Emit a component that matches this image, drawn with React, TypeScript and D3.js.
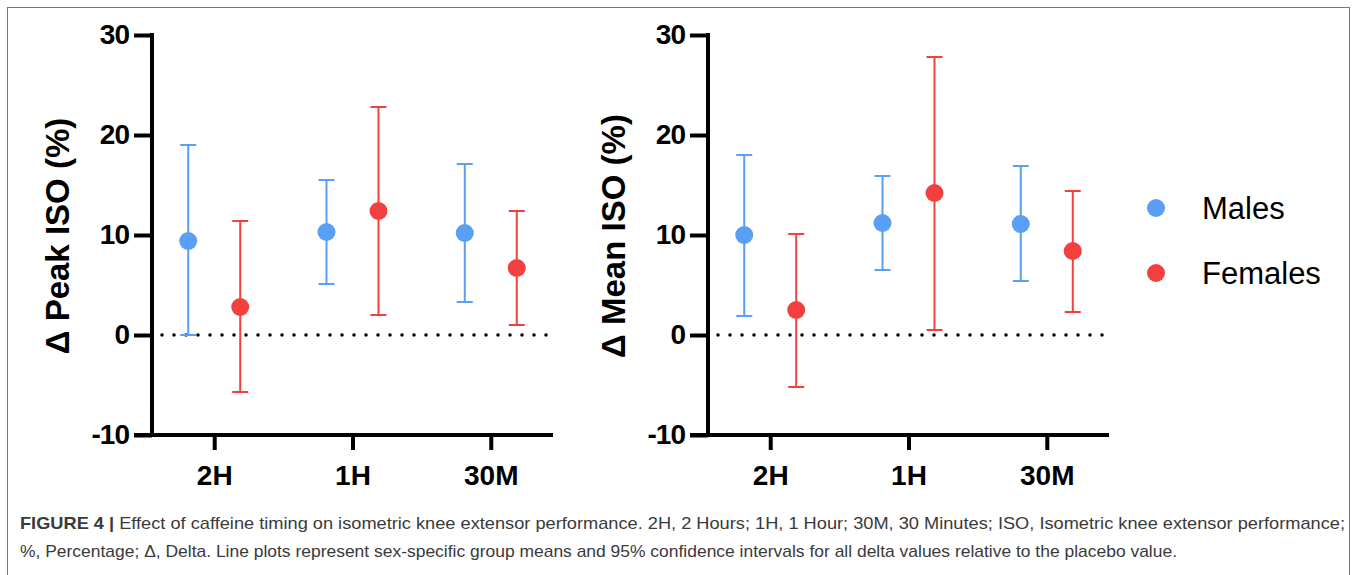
import React, { useEffect, useRef } from "react";
import * as d3 from "d3";

// timing groups on the x axis
const categories = ["2H", "1H", "30M"];
const groups = ["Males", "Females"];
const yTicks = [-10, 0, 10, 20, 30];

// Δ Peak ISO (%) – mean and 95% CI
const peakMaleMean = [9.4, 10.3, 10.2];
const peakMaleLow = [0.0, 5.1, 3.3];
const peakMaleHigh = [19.0, 15.5, 17.1];
const peakFemaleMean = [2.8, 12.4, 6.7];
const peakFemaleLow = [-5.7, 2.0, 1.0];
const peakFemaleHigh = [11.4, 22.8, 12.4];

// Δ Mean ISO (%) – mean and 95% CI
const meanMaleMean = [10.0, 11.2, 11.1];
const meanMaleLow = [1.9, 6.5, 5.4];
const meanMaleHigh = [18.0, 15.9, 16.9];
const meanFemaleMean = [2.5, 14.2, 8.4];
const meanFemaleLow = [-5.2, 0.5, 2.3];
const meanFemaleHigh = [10.1, 27.8, 14.4];

const colors = { Males: "#589ff5", Females: "#f2403f" };

const caption1 =
  "Effect of caffeine timing on isometric knee extensor performance. 2H, 2 Hours; 1H, 1 Hour; 30M, 30 Minutes; ISO, Isometric knee extensor performance;";
const caption2 =
  "%, Percentage; Δ, Delta. Line plots represent sex-specific group means and 95% confidence intervals for all delta values relative to the placebo value.";

const sans = "'Liberation Sans', Arial, Helvetica, sans-serif";

const buildRows = (mMean, mLow, mHigh, fMean, fLow, fHigh) =>
  categories.flatMap((c, i) => [
    { cat: c, group: "Males", mean: mMean[i], low: mLow[i], high: mHigh[i] },
    { cat: c, group: "Females", mean: fMean[i], low: fLow[i], high: fHigh[i] },
  ]);

const panels = [
  {
    title: "Δ Peak ISO (%)",
    left: 152,
    rows: buildRows(peakMaleMean, peakMaleLow, peakMaleHigh, peakFemaleMean, peakFemaleLow, peakFemaleHigh),
  },
  {
    title: "Δ Mean ISO (%)",
    left: 708,
    rows: buildRows(meanMaleMean, meanMaleLow, meanMaleHigh, meanFemaleMean, meanFemaleLow, meanFemaleHigh),
  },
];

const W = 1357;
const H = 575;
const plotW = 401;
const top = 35;
const bottom = 435;

export default function App() {
  const svgRef = useRef<SVGSVGElement>(null);

  useEffect(() => {
    const svg = d3.select(svgRef.current);
    svg.selectAll("*").remove();

    // figure frame
    svg
      .append("rect")
      .attr("x", 7.5)
      .attr("y", 7.5)
      .attr("width", 1342)
      .attr("height", 600)
      .attr("fill", "none")
      .attr("stroke", "#777")
      .attr("stroke-width", 1);

    const y = d3.scaleLinear().domain([-10, 30]).range([bottom, top]);
    const offset = d3.scalePoint().domain(groups).range([-26, 26]);

    panels.forEach((p) => {
      const g = svg.append("g");
      const x = d3
        .scalePoint()
        .domain(categories)
        .range([p.left, p.left + plotW])
        .padding(0.45);

      // y axis
      const yAxis = g
        .append("g")
        .attr("transform", `translate(${p.left},0)`)
        .call(
          d3
            .axisLeft(y)
            .tickValues(yTicks)
            .tickFormat((d) => String(d))
            .tickSize(18)
            .tickSizeOuter(0)
            .tickPadding(5)
        );
      yAxis.select(".domain").attr("stroke", "#000").attr("stroke-width", 4).attr("d", `M0,${top - 2}V${bottom + 2}`);
      yAxis.selectAll(".tick line").attr("stroke", "#000").attr("stroke-width", 4);
      yAxis
        .selectAll(".tick text")
        .attr("font-family", sans)
        .attr("font-weight", "bold")
        .attr("font-size", 28)
        .attr("letter-spacing", -1)
        .attr("fill", "#000");

      // x axis
      const xAxis = g
        .append("g")
        .attr("transform", `translate(0,${bottom})`)
        .call(d3.axisBottom(x).tickSize(15).tickSizeOuter(0).tickPadding(15));
      xAxis.select(".domain").attr("stroke", "#000").attr("stroke-width", 4).attr("d", `M${p.left - 18},0H${p.left + plotW}`);
      xAxis.selectAll(".tick line").attr("stroke", "#000").attr("stroke-width", 4);
      xAxis
        .selectAll(".tick text")
        .attr("font-family", sans)
        .attr("font-weight", "bold")
        .attr("font-size", 28)
        .attr("fill", "#000");

      // y axis title
      g.append("text")
        .attr("transform", `translate(${p.left - 95},236) rotate(-90)`)
        .attr("text-anchor", "middle")
        .attr("dy", "0.35em")
        .attr("font-family", sans)
        .attr("font-weight", "bold")
        .attr("font-size", 33)
        .text(p.title);

      // zero reference line (dotted)
      g.append("line")
        .attr("x1", p.left + 10)
        .attr("x2", p.left + plotW)
        .attr("y1", y(0))
        .attr("y2", y(0))
        .attr("stroke", "#000")
        .attr("stroke-width", 3.5)
        .attr("stroke-linecap", "round")
        .attr("stroke-dasharray", "0 12");

      // error bars + points
      const marks = g
        .selectAll(".mark")
        .data(p.rows)
        .join("g")
        .attr("class", "mark")
        .attr("transform", (d) => `translate(${x(d.cat) + offset(d.group)},0)`);

      marks
        .append("line")
        .attr("y1", (d) => y(d.low))
        .attr("y2", (d) => y(d.high))
        .attr("stroke", (d) => colors[d.group])
        .attr("stroke-width", 2);
      marks
        .selectAll(".cap")
        .data((d) => [
          { v: d.low, c: colors[d.group] },
          { v: d.high, c: colors[d.group] },
        ])
        .join("line")
        .attr("class", "cap")
        .attr("x1", -8)
        .attr("x2", 8)
        .attr("y1", (d) => y(d.v))
        .attr("y2", (d) => y(d.v))
        .attr("stroke", (d) => d.c)
        .attr("stroke-width", 2);
      marks
        .append("circle")
        .attr("cy", (d) => y(d.mean))
        .attr("r", 9)
        .attr("fill", (d) => colors[d.group]);
    });

    // legend
    const legend = svg
      .append("g")
      .selectAll("g")
      .data(groups)
      .join("g")
      .attr("transform", (d, i) => `translate(1156,${208 + i * 65})`);
    legend.append("circle").attr("r", 9).attr("fill", (d) => colors[d]);
    legend
      .append("text")
      .attr("x", 46)
      .attr("dy", "0.35em")
      .attr("font-family", sans)
      .attr("font-size", 31)
      .attr("fill", "#000")
      .text((d) => d);

    // caption
    const cap = svg
      .append("text")
      .attr("x", 20)
      .attr("y", 529)
      .attr("font-family", sans)
      .attr("font-size", 17)
      .attr("textLength", 1325)
      .attr("lengthAdjust", "spacingAndGlyphs")
      .attr("fill", "#3a3a3a");
    cap.append("tspan").attr("font-weight", "bold").text("FIGURE 4 | ");
    cap.append("tspan").text(caption1);
    svg
      .append("text")
      .attr("x", 20)
      .attr("y", 557)
      .attr("font-family", sans)
      .attr("font-size", 17)
      .attr("textLength", 1157)
      .attr("lengthAdjust", "spacingAndGlyphs")
      .attr("fill", "#3a3a3a")
      .text(caption2);
  }, []);

  return (
    <svg
      ref={svgRef}
      width={W}
      height={H}
      style={{ position: "absolute", left: 0, top: 0, background: "#fff" }}
    />
  );
}
